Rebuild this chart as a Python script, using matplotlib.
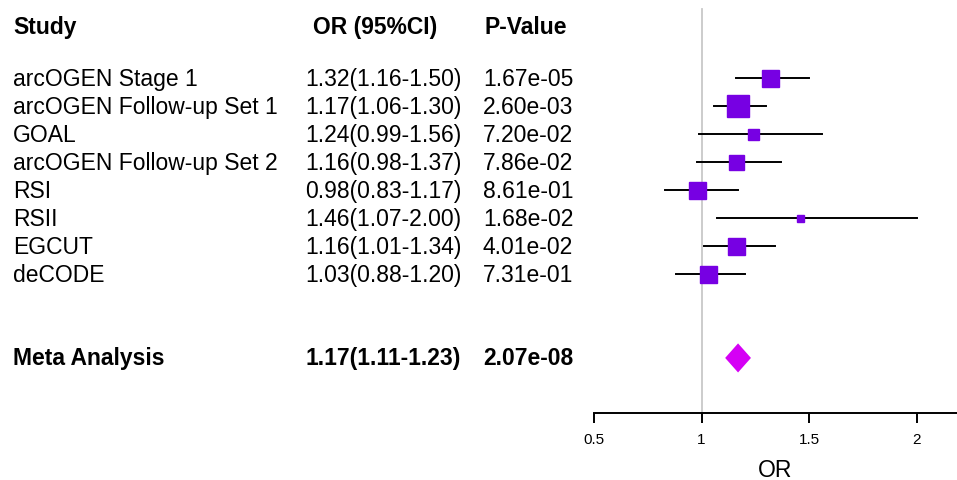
import matplotlib
matplotlib.use("Agg")
import matplotlib.pyplot as plt
from matplotlib.transforms import blended_transform_factory

plt.rcParams["font.family"] = ["Liberation Sans", "DejaVu Sans"]

# study data
studies = ["arcOGEN Stage 1", "arcOGEN Follow-up Set 1", "GOAL", "arcOGEN Follow-up Set 2",
           "RSI", "RSII", "EGCUT", "deCODE"]
odds = [1.32, 1.17, 1.24, 1.16, 0.98, 1.46, 1.16, 1.03]
lower = [1.16, 1.06, 0.99, 0.98, 0.83, 1.07, 1.01, 0.88]
upper = [1.50, 1.30, 1.56, 1.37, 1.17, 2.00, 1.34, 1.20]
pvals = ["1.67e-05", "2.60e-03", "7.20e-02", "7.86e-02", "8.61e-01", "1.68e-02", "4.01e-02", "7.31e-01"]

meta_label = "Meta Analysis"
meta_or, meta_lo, meta_hi = 1.17, 1.11, 1.23
meta_p = "2.07e-08"

# box size (px) ~ study weight
box_px = [17, 23, 11, 15, 17, 7, 17, 17]

ticks = [0.5, 1, 1.5, 2]
tick_labels = ["0.5", "1", "1.5", "2"]

fig = plt.figure(figsize=(9.57, 4.81), dpi=100)
ax = fig.add_axes([594 / 957, 1 - 414 / 481, 1 - 594 / 957, 414 / 481])
ax.set_xlim(0.5, 0.5 + (957 - 594) / 215.0)
ax.set_ylim(11.97, -2.84)

purple = "#7700E3"
magenta = "#D500F5"

ax.plot([1, 1], [-2.5, 12], color="#c8c8c8", lw=1.3, zorder=1)

for i in range(len(studies)):
    ax.plot([lower[i], upper[i]], [i, i], color="black", lw=1.4, zorder=2)
    ax.plot(odds[i], i, marker="s", ms=box_px[i] * 0.72, color=purple,
            mec=purple, zorder=3)

meta_y = 10
ax.fill([meta_lo, meta_or, meta_hi, meta_or],
        [meta_y, meta_y - 0.52, meta_y, meta_y + 0.52], color=magenta, lw=0, zorder=3)

for s in ["top", "right", "left"]:
    ax.spines[s].set_visible(False)
ax.spines["bottom"].set_linewidth(1.4)
ax.set_yticks([])
ax.set_xticks(ticks)
ax.set_xticklabels(tick_labels, fontsize=11)
ax.tick_params(axis="x", length=7, width=1.4, pad=7)
ax.set_xlabel("OR", fontsize=16.5, labelpad=8)

tr = blended_transform_factory(fig.transFigure, ax.transData)
fs = 16.5
col_study = 13 / 957
col_or = 305 / 957
col_p = 483 / 957

head_y = -1.87
ax.text(col_study, head_y, "Study", transform=tr, fontsize=fs, fontweight="bold", va="center", clip_on=False)
ax.text(313 / 957, head_y, "OR (95%CI)", transform=tr, fontsize=fs, fontweight="bold", va="center", clip_on=False)
ax.text(485 / 957, head_y, "P-Value", transform=tr, fontsize=fs, fontweight="bold", va="center", clip_on=False)

for i in range(len(studies)):
    ax.text(col_study, i, studies[i], transform=tr, fontsize=fs, va="center", clip_on=False)
    ax.text(col_or, i, f"{odds[i]:.2f}({lower[i]:.2f}-{upper[i]:.2f})", transform=tr,
            fontsize=fs, va="center", clip_on=False)
    ax.text(col_p, i, pvals[i], transform=tr, fontsize=fs, va="center", clip_on=False)

ax.text(col_study, meta_y, meta_label, transform=tr, fontsize=fs, fontweight="bold", va="center", clip_on=False)
ax.text(461 / 957, meta_y, f"{meta_or:.2f}({meta_lo:.2f}-{meta_hi:.2f})", transform=tr,
        fontsize=fs, fontweight="bold", va="center", ha="right", clip_on=False)
ax.text(col_p, meta_y, meta_p, transform=tr, fontsize=fs, fontweight="bold", va="center", clip_on=False)

fig.savefig("out.png", dpi=100)
